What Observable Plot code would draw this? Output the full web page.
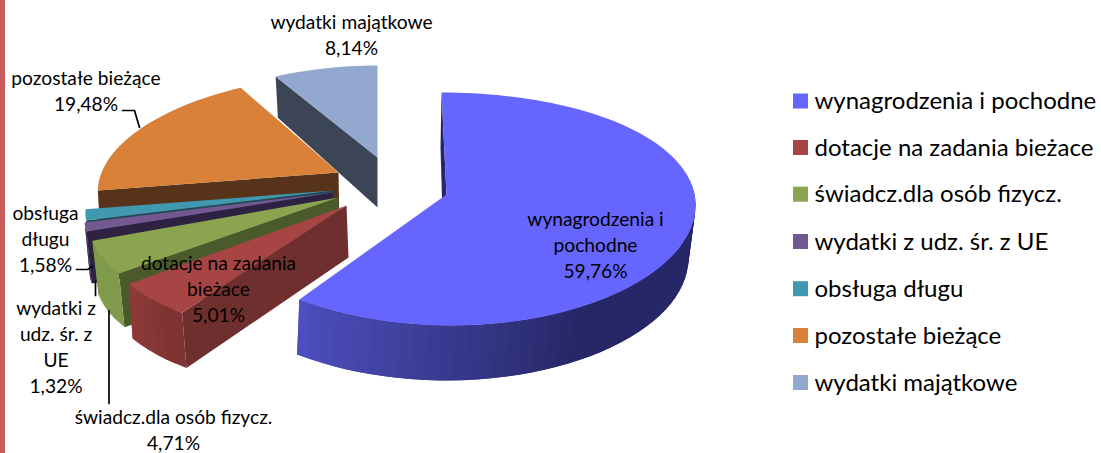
<!DOCTYPE html>
<html><head><meta charset="utf-8">
<script src="https://cdn.jsdelivr.net/npm/d3@7"></script>
<script src="https://cdn.jsdelivr.net/npm/@observablehq/plot@0.6"></script>
<style>html,body{margin:0;padding:0;background:#fff}svg{display:block}</style>
</head><body><div id="chart"></div>
<script>
// --- data ---
const categories = ["wynagrodzenia i pochodne","dotacje na zadania bieżace","świadcz.dla osób fizycz.","wydatki z udz. śr. z UE","obsługa długu","pozostałe bieżące","wydatki majątkowe"];
const shares = [59.76,5.01,4.71,1.32,1.58,19.48,8.14];
const labelNames = ["wynagrodzenia i\npochodne","dotacje na zadania\nbieżace","świadcz.dla osób fizycz.","wydatki z\nudz. śr. z\nUE","obsługa\ndługu","pozostałe bieżące","wydatki majątkowe"];
const topColors = ["#6666ff","#a74545","#8aa44f","#735891","#4099b0","#d98039","#93a8cf"];

// --- styling and layout of the drawing ---
const radialColors = ["#262766","#6f2f2f","#4a5a2a","#2e2142","#1f4a56","#57331a","#3b4556"];
const outerColors = [["#262766","#4d50bf"],["#7b3230","#8f3a38"],["#7f9a4b","#7f9a4b"],["#2e2142","#2e2142"],null,null,null];
const outerFrom = [80,null,null,null,null,null,null];
// perspective rims: top and bottom per slice
const rims = [
 {t:[446,194,248,.073,116.5,14.5,5], b:[443,249,244,.073,116.5,14.5,3]},
 {t:[346,205,234,.27,131,0,0],       b:[348,257,237,.23,135,0,0]},
 {t:[338,197,245,.2,127,0,0],        b:[340,250,241,.2,128,0,0]},
 {t:[332,192,241,.25,115,0,0],       b:[334,244,238,.25,115,0,0]},
 {t:[333,190,243,.21,115,0,0],       b:[335,244,240,.21,115,0,0]},
 {t:[338,172,237,.18,108,12.5,0],    b:[339,226,235,.18,108,12.5,0]},
 {t:[377,157,228,.1,99,7,0],         b:[377,207,223,.1,103,0,0]}
];
const rad = d => d*Math.PI/180;
function pt(r,deg){
  const [cx,cy,rx,p,ry,k,s]=r, u=Math.sin(rad(deg)), v=-Math.cos(rad(deg));
  return [cx+rx*u*(1+p*v)+s*v, cy+ry*v+k*v*v];
}
const ends = d3.cumsum(shares).map(c=>c/d3.sum(shares)*360);
const starts = ends.map((e,i)=>i?ends[i-1]:0);
const polys=[];
let pid=0;
function addPoly(points,fill,sw){const id=pid++;points.forEach(([x,y])=>polys.push({id,fill,x,y}));}
function arc(r,a,b,n){return d3.range(n+1).map(i=>pt(r,a+(b-a)*i/n));}
const order=[6,5,4,3,2,1,0];
for(const i of order){
  const R=rims[i],a=starts[i],b=ends[i];
  addPoly([[R.t[0],R.t[1]],pt(R.t,a),pt(R.b,a),[R.b[0],R.b[1]]],radialColors[i]);
  if(outerColors[i]){
    const from=outerFrom[i]??a, n=Math.max(4,Math.round((b-from)/3));
    const col=d3.interpolateRgb(outerColors[i][0],outerColors[i][1]);
    for(let j=0;j<n;j++){
      const a0=from+(b-from)*j/n,a1=from+(b-from)*(j+1)/n;
      // each strip reaches past its neighbour so that no seam shows
      const a2=Math.min(b,a1+(b-from)/n);
      const mid=(a0+a1)/2;
      const f= i===0? Math.min(1,Math.max(0,(b-mid<0?0:(mid-150)/(b-150)))):(mid-from)/(b-from);
      addPoly([pt(R.t,a0),pt(R.t,a2),pt(R.b,a2),pt(R.b,a0)],d3.rgb(col(f)).formatHex());
    }
  }
  addPoly([[R.t[0],R.t[1]],...arc(R.t,a,b,Math.max(6,Math.round((b-a)/2)))],topColors[i]);
}
const pct=v=>v.toFixed(2).replace(".",",")+"%";
const labelPos=[[595,243],[218,287],[173,428],[55.5,345.5],[45,237],[85.5,89],[351,33]];
const labels=labelNames.map((n,i)=>({text:n+"\n"+pct(shares[i]),x:labelPos[i][0],y:labelPos[i][1]}));
const leaders=[
 {id:0,x:122,y:110},{id:0,x:134,y:110},{id:0,x:139,y:127},
 {id:1,x:76,y:269},{id:1,x:87,y:269},{id:1,x:92,y:266},
 {id:2,x:95,y:281},{id:2,x:95,y:295},
 {id:3,x:108.5,y:310},{id:3,x:108.5,y:403}
];
const legendY=[101,147.5,194.2,241.5,288.7,335.5,382.5];
const legend=categories.map((c,i)=>({c,y:legendY[i],fill:topColors[i]}));
const font="Lato, Carlito, sans-serif";
const plot=Plot.plot({
  width:1101,height:453,margin:0,
  x:{domain:[0,1101],range:[0,1101],axis:null},
  y:{domain:[0,453],range:[0,453],axis:null},
  style:{background:"#fff",fontFamily:font},
  marks:[
    Plot.rect([0],{x1:0,x2:5,y1:0,y2:453,fill:"#c75a5a"}),
    Plot.line(polys,{x:"x",y:"y",z:"id",fill:"fill",stroke:"none",curve:"linear-closed"}),
    Plot.line(leaders,{x:"x",y:"y",z:"id",stroke:"#000",strokeWidth:1.7}),
    Plot.text(labels,{x:"x",y:"y",text:"text",fontSize:19.2,lineHeight:1.355,fill:"#000",textAnchor:"middle"}),
    Plot.rect(legend,{x1:793,x2:808,y1:d=>d.y-7.5,y2:d=>d.y+7.5,fill:"fill"}),
    Plot.text(legend,{x:814,y:"y",text:"c",fontSize:24,fill:"#000",textAnchor:"start"})
  ]
});
document.getElementById("chart").append(plot);
</script></body></html>
